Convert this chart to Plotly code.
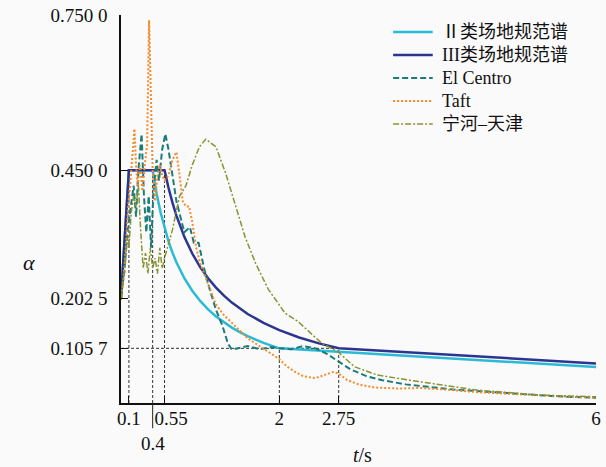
import plotly.graph_objects as go

# ---- data ----
T_II = [0, 0.1, 0.4, 0.42, 0.45, 0.5, 0.55, 0.6, 0.65, 0.7, 0.8, 0.9, 1.0, 1.1, 1.2, 1.3, 1.4, 1.5, 1.6, 1.8, 2.0, 6.0]
A_II = [0.2025, 0.45, 0.45, 0.4307, 0.4047, 0.3682, 0.3379, 0.3124, 0.2907, 0.2719, 0.2412, 0.2169, 0.1973,
        0.1811, 0.1674, 0.1558, 0.1457, 0.1370, 0.1293, 0.1162, 0.1057, 0.0697]

T_III = [0, 0.1, 0.55, 0.58, 0.6, 0.65, 0.7, 0.8, 0.9, 1.0, 1.1, 1.2, 1.3, 1.4, 1.6, 1.8, 2.0, 2.25, 2.5, 2.75, 6.0]
A_III = [0.2025, 0.45, 0.45, 0.4290, 0.4161, 0.3872, 0.3622, 0.3212, 0.2889, 0.2627, 0.2412, 0.2230, 0.2075,
         0.1941, 0.1721, 0.1548, 0.1408, 0.1266, 0.1152, 0.1057, 0.0765]

T_EC = [0, 0.04, 0.08, 0.12, 0.16, 0.19, 0.22, 0.26, 0.29, 0.32, 0.35, 0.38, 0.41, 0.45, 0.48, 0.52, 0.56, 0.6,
        0.65, 0.7, 0.75, 0.8, 0.87, 0.92, 0.98, 1.05, 1.12, 1.2, 1.28, 1.35, 1.4, 1.5, 1.6, 1.75, 1.9, 2.0, 2.15,
        2.3, 2.45, 2.6, 2.75, 2.9, 3.1, 3.3, 3.6, 3.9, 4.2, 4.6, 5.0, 5.5, 6.0]
A_EC = [0.21, 0.25, 0.33, 0.38, 0.42, 0.36, 0.45, 0.52, 0.40, 0.33, 0.40, 0.30, 0.41, 0.47, 0.43, 0.49, 0.52, 0.49,
        0.44, 0.39, 0.36, 0.33, 0.34, 0.31, 0.31, 0.26, 0.22, 0.18, 0.15, 0.115, 0.103, 0.107, 0.110, 0.104, 0.108,
        0.106, 0.104, 0.110, 0.106, 0.095, 0.080, 0.065, 0.052, 0.044, 0.036, 0.031, 0.026, 0.022, 0.018, 0.013, 0.010]

T_TAFT = [0, 0.03, 0.06, 0.09, 0.12, 0.15, 0.17, 0.19, 0.21, 0.24, 0.27, 0.30, 0.33, 0.355, 0.38, 0.40, 0.43, 0.46,
          0.49, 0.52, 0.55, 0.6, 0.65, 0.7, 0.74, 0.78, 0.82, 0.86, 0.9, 0.95, 1.0, 1.05, 1.1, 1.2, 1.3, 1.4, 1.5,
          1.6, 1.7, 1.8, 1.9, 2.0, 2.1, 2.2, 2.3, 2.45, 2.55, 2.68, 2.75, 2.85, 3.0, 3.2, 3.5, 3.8, 4.1, 4.5, 5.0,
          5.5, 6.0]
A_TAFT = [0.20, 0.24, 0.30, 0.38, 0.43, 0.49, 0.53, 0.46, 0.42, 0.46, 0.41, 0.46, 0.50, 0.74, 0.55, 0.45, 0.39, 0.44,
          0.46, 0.44, 0.43, 0.44, 0.47, 0.485, 0.44, 0.39, 0.38, 0.38, 0.35, 0.30, 0.27, 0.25, 0.23, 0.19, 0.17,
          0.155, 0.14, 0.125, 0.115, 0.105, 0.095, 0.085, 0.070, 0.060, 0.052, 0.048, 0.053, 0.060, 0.057, 0.045,
          0.036, 0.030, 0.028, 0.029, 0.026, 0.021, 0.017, 0.013, 0.010]

T_NH = [0, 0.05, 0.08, 0.1, 0.13, 0.16, 0.19, 0.22, 0.25, 0.28, 0.31, 0.34, 0.37, 0.40, 0.43, 0.46, 0.49, 0.52,
        0.55, 0.6, 0.65, 0.74, 0.82, 0.9, 0.99, 1.07, 1.2, 1.32, 1.45, 1.57, 1.7, 1.86, 2.07, 2.24, 2.53, 2.74,
        2.95, 3.24, 3.65, 4.07, 4.49, 5.32, 6.0]
A_NH = [0.20, 0.26, 0.32, 0.30, 0.37, 0.40, 0.38, 0.42, 0.33, 0.26, 0.29, 0.25, 0.30, 0.26, 0.28, 0.25, 0.30, 0.26,
        0.28, 0.31, 0.335, 0.40, 0.42, 0.46, 0.495, 0.51, 0.495, 0.445, 0.38, 0.32, 0.27, 0.22, 0.174, 0.157,
        0.116, 0.099, 0.07, 0.054, 0.044, 0.035, 0.025, 0.015, 0.012]

SERIES_NAMES = ["Ⅱ类场地规范谱", "III类场地规范谱", "El Centro", "Taft", "宁河–天津"]

X_TICKS = [0.1, 0.55, 2, 2.75, 6]
X_TICK_TEXT = ["0.1", "\u2007\u20090.55", "2", "2.75", "6"]
Y_TICKS = [0.1057, 0.2025, 0.45, 0.75]
Y_TICK_TEXT = ["0.105 7", "0.202 5", "0.450 0", "0.750 0"]

# guide lines (period, alpha)
V_GUIDES = [(0.1, 0.45), (0.4, 0.45), (0.55, 0.45), (2.0, 0.1057), (2.75, 0.1057)]
H_GUIDE = (2.75, 0.1057)

SERIF = "Liberation Serif, Noto Sans CJK SC"

STYLES = [
    dict(color="#2bbad6", width=2.5),
    dict(color="#2b3590", width=2.5),
    dict(color="#1b7b7a", width=2, dash="6px,3px"),
    dict(color="#f58a2a", width=2, dash="2px,2px"),
    dict(color="#8a9232", width=1.5, dash="6px,2px,2px,2px"),
]
SERIES = [(T_II, A_II), (T_III, A_III), (T_EC, A_EC), (T_TAFT, A_TAFT), (T_NH, A_NH)]

fig = go.Figure()
for (xs, ys), name, st in zip(SERIES, SERIES_NAMES, STYLES):
    fig.add_trace(go.Scatter(x=xs, y=ys, mode="lines", name=name, line=st, showlegend=False))

for xv, yv in V_GUIDES:
    fig.add_shape(type="line", x0=xv, x1=xv, y0=0, y1=yv, xref="x", yref="y",
                  line=dict(color="#333333", width=1, dash="3px,2px"), layer="below")
fig.add_shape(type="line", x0=0, x1=H_GUIDE[0], y0=H_GUIDE[1], y1=H_GUIDE[1], xref="x", yref="y",
              line=dict(color="#333333", width=1, dash="3px,2px"), layer="below")

# legend drawn manually (tight row spacing as in reference)
LEG_X0, LEG_X1, LEG_TX = 0.5729, 0.6563, 0.6708
LEG_Y = [0.9562, 0.8969, 0.8376, 0.7784, 0.7191]
for name, st, ly in zip(SERIES_NAMES, STYLES, LEG_Y):
    fig.add_shape(type="line", x0=LEG_X0, x1=LEG_X1, y0=ly, y1=ly, xref="paper", yref="paper",
                  line=st)
    fig.add_annotation(x=LEG_TX, y=ly, xref="paper", yref="paper", text=name, showarrow=False,
                       xanchor="left", yanchor="middle",
                       font=dict(family=SERIF, size=18, color="#111111"))

# 0.4 tick below the axis and its label
fig.add_shape(type="line", x0=0.4, x1=0.4, y0=0, y1=-0.065, xref="x", yref="paper",
              line=dict(color="#222222", width=1))
fig.add_annotation(x=0.4, y=-0.105, xref="x", yref="paper", text="0.4", showarrow=False,
                   font=dict(family=SERIF, size=19, color="#111111"), yanchor="middle")

fig.add_annotation(x=0.508, y=-0.134, xref="paper", yref="paper", text="<i>t</i>/s", showarrow=False,
                   font=dict(family=SERIF, size=20, color="#111111"), yanchor="middle")
fig.add_annotation(x=-0.21, y=0.363, xref="paper", yref="paper", text="<i>α</i>", showarrow=False,
                   font=dict(family=SERIF, size=22, color="#111111"), yanchor="middle")

fig.update_layout(
    width=606, height=467,
    margin=dict(l=121, r=5, t=15, b=64),
    paper_bgcolor="#fafafa", plot_bgcolor="#fafafa",
    font=dict(family=SERIF, size=19, color="#111111"),
    showlegend=False,
)
fig.update_xaxes(range=[0, 6], showgrid=False, zeroline=False, showline=True, linecolor="#111111",
                 linewidth=1.5, ticks="inside", ticklen=7, tickcolor="#111111", tickwidth=1.2,
                 tickvals=X_TICKS, ticktext=X_TICK_TEXT, ticklabelstandoff=-3, tickangle=0,
                 tickfont=dict(family=SERIF, size=19))
fig.update_yaxes(range=[0, 0.75], showgrid=False, zeroline=False, showline=True, linecolor="#111111",
                 linewidth=1.5, ticks="inside", ticklen=7, tickcolor="#111111", tickwidth=1.2,
                 tickvals=Y_TICKS, ticktext=Y_TICK_TEXT, ticklabelstandoff=8,
                 tickfont=dict(family=SERIF, size=19))

fig.write_html("out.html")
